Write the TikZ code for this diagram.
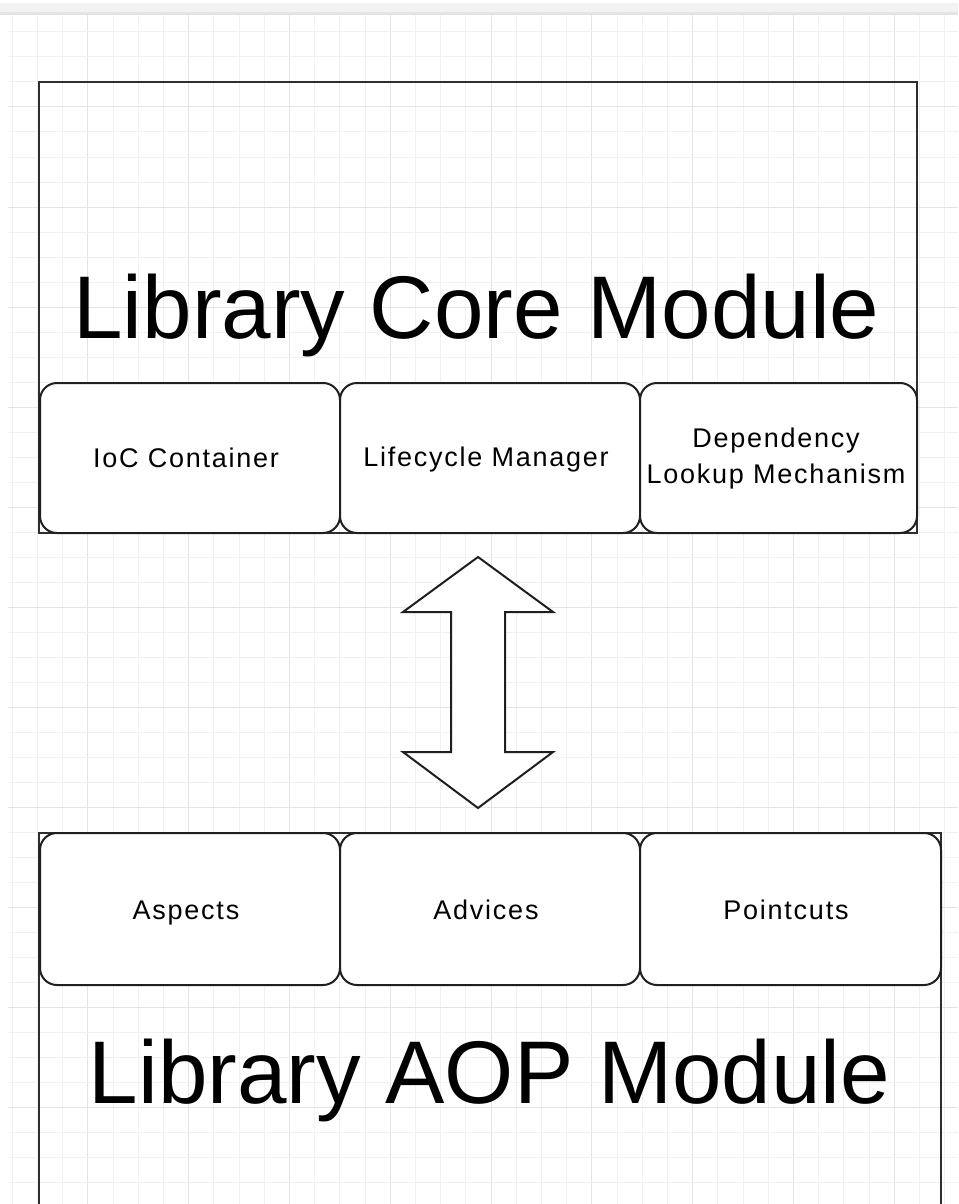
\documentclass[tikz,border=0pt]{standalone}
\usepackage{fontspec}
\setmainfont{Liberation Sans}
\newfontfamily\partfont[LetterSpace=6.5]{Liberation Sans}

\definecolor{gridminor}{HTML}{F1F1F1}
\definecolor{gridmajor}{HTML}{E5E5E5}
\definecolor{framecol}{HTML}{2E2E2E}
\definecolor{barfill}{HTML}{F2F2F2}
\definecolor{barline}{HTML}{E4E4E4}

\tikzset{
  module/.style={draw=framecol, line width=2.3pt, rectangle, inner sep=0pt},
  part/.style={draw=black!88, line width=2pt, rectangle, rounded corners=17pt,
    fill=white, inner sep=0pt, minimum height=150pt},
  title/.style={font=\fontsize{89}{100}\selectfont, anchor=base, inner sep=0pt},
  partlabel/.style={font=\partfont\fontsize{27}{36}\selectfont, anchor=base,
    inner sep=0pt, align=center},
  blockarrow/.style={draw=black!88, line width=2pt, fill=white, line join=miter},
}

\begin{document}
\begin{tikzpicture}[x=1pt,y=-1pt]
  \useasboundingbox (0,0) rectangle (958,1204);
  \clip (0,0) rectangle (958,1204);

  % background grid
  \begin{scope}
    \clip (8,15) rectangle (958,1204);
    \foreach \k in {0,...,38} {
      \pgfmathsetmacro{\gx}{12.2+25.2*\k}
      \pgfmathtruncatemacro{\maj}{mod(\k,4)==3}
      \ifnum\maj=1
        \draw[gridmajor, line width=1pt] (\gx,15) -- (\gx,1204);
      \else
        \draw[gridminor, line width=1pt] (\gx,15) -- (\gx,1204);
      \fi
    }
    \foreach \k in {1,...,48} {
      \pgfmathsetmacro{\gy}{7+25*\k}
      \pgfmathtruncatemacro{\maj}{mod(\k,4)==0}
      \ifnum\maj=1
        \draw[gridmajor, line width=1pt] (8,\gy) -- (958,\gy);
      \else
        \draw[gridminor, line width=1pt] (8,\gy) -- (958,\gy);
      \fi
    }
  \end{scope}

  % toolbar strip along the top edge
  \fill[barfill] (0,3) rectangle (958,12);
  \fill[barline] (0,12) rectangle (958,15);

  % core module frame and its parts
  \node[module, minimum width=878pt, minimum height=451pt] (core) at (478,307.5) {};
  \node[title] (coretitle) at (476.5,338) {Library Core Module};
  \node[part, minimum width=300pt] (ioc) at (190,458) {};
  \node[part, minimum width=300pt] (life) at (490,458) {};
  \node[part, minimum width=277pt] (dep) at (778.5,458) {};
  \node[partlabel] (ioclabel) at (186,467) {IoC Container};
  \node[partlabel] (lifelabel) at (486,466) {Lifecycle Manager};
  \node[partlabel, anchor=center] (deplabel) at (776,459) {Dependency\\Lookup Mechanism};

  % AOP module frame and its parts (runs past the lower edge)
  \node[module, minimum width=902pt, minimum height=420pt] (aop) at (490,1043) {};
  \node[title] (aoptitle) at (489.5,1103) {Library AOP Module};
  \node[part, minimum width=300pt, minimum height=152pt] (aspects) at (190,909) {};
  \node[part, minimum width=300pt, minimum height=152pt] (advices) at (490,909) {};
  \node[part, minimum width=301pt, minimum height=152pt] (pointcuts) at (790.5,909) {};
  \node[partlabel] (aspectslabel) at (186,919) {Aspects};
  \node[partlabel] (adviceslabel) at (486,919) {Advices};
  \node[partlabel] (pointcutslabel) at (786,919) {Pointcuts};

  % two-way block arrow between the modules
  \coordinate (uptip) at (478,557);
  \coordinate (downtip) at (478,808);
  \draw[blockarrow]
    (uptip) -- ++(75,55) -- ++(-48,0) -- ++(0,140) -- ++(48,0)
    -- (downtip) -- ++(-75,-56) -- ++(48,0) -- ++(0,-140) -- ++(-48,0) -- cycle;
\end{tikzpicture}
\end{document}
